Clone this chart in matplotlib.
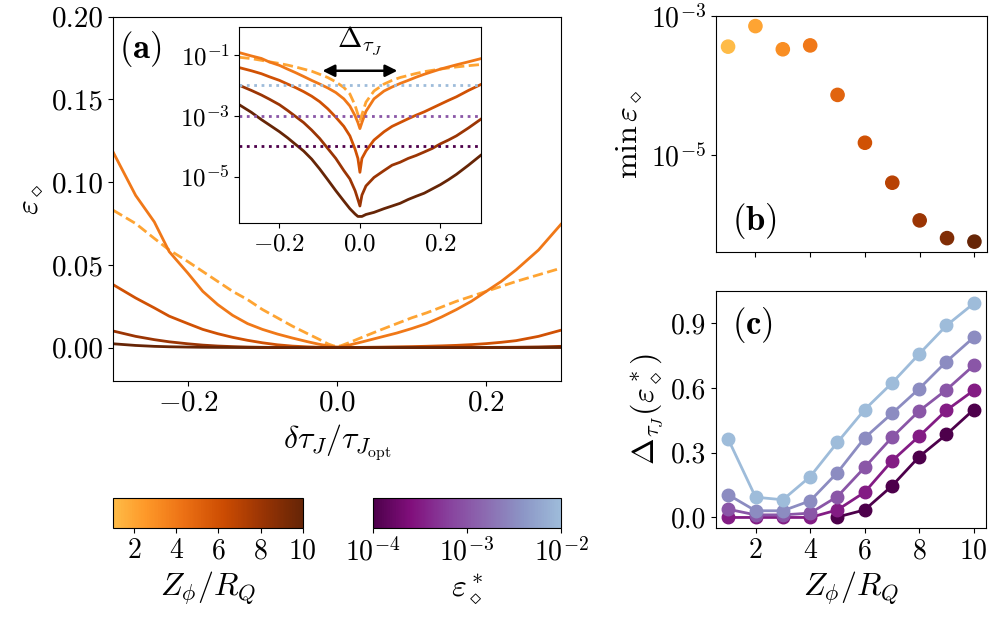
import numpy as np
import matplotlib
matplotlib.use("Agg")
import matplotlib.pyplot as plt
from matplotlib.colors import LinearSegmentedColormap, Normalize, LogNorm
from matplotlib.cm import ScalarMappable
from matplotlib.ticker import NullLocator, FormatStrFormatter

plt.rcParams['font.family'] = 'serif'
plt.rcParams['font.serif'] = ['cmr10', 'DejaVu Serif']
plt.rcParams['mathtext.fontset'] = 'cm'
plt.rcParams['axes.formatter.use_mathtext'] = True

# данные панели (a): отклонение dtau и ошибка для разных Z
dtau = [-0.3, -0.27, -0.245, -0.225, -0.2, -0.18, -0.16, -0.14, -0.12, -0.1, -0.08, -0.06,
        -0.04, -0.025, -0.012, -0.005, 0.0, 0.005, 0.015, 0.035, 0.06, 0.08, 0.1, 0.12,
        0.14, 0.16, 0.18, 0.2, 0.22, 0.24, 0.27, 0.3]
eps_dashed = [0.083, 0.075, 0.066, 0.059, 0.052, 0.046, 0.040, 0.034, 0.029, 0.023, 0.018, 0.013,
              0.0085, 0.0052, 0.0022, 0.0011, 0.0007, 0.0011, 0.0028, 0.0065, 0.011, 0.0145, 0.018, 0.021,
              0.0245, 0.028, 0.031, 0.034, 0.037, 0.040, 0.044, 0.048]
eps_z4 = [0.118, 0.092, 0.076, 0.058, 0.045, 0.034, 0.026, 0.0195, 0.0145, 0.011, 0.0082, 0.0058,
          0.0036, 0.0021, 0.0010, 0.0006, 0.00038, 0.0006, 0.0014, 0.0036, 0.0065, 0.0088, 0.0115, 0.0145,
          0.0185, 0.023, 0.028, 0.034, 0.040, 0.047, 0.059, 0.0745]
eps_z6 = [0.038, 0.030, 0.024, 0.019, 0.0145, 0.011, 0.0084, 0.0062, 0.0044, 0.0029, 0.0017, 0.0009,
          4.5e-4, 2.2e-4, 8e-5, 4e-5, 1.4e-5, 4e-5, 7e-5, 1.6e-4, 3.0e-4, 4.5e-4, 6e-4, 8e-4,
          1.05e-3, 1.35e-3, 1.8e-3, 2.4e-3, 3.2e-3, 4.2e-3, 6.8e-3, 1.05e-2]
eps_z8 = [0.0100, 0.0068, 0.0048, 0.0035, 0.0023, 0.0015, 9.5e-4, 6e-4, 3.4e-4, 1.8e-4, 8.5e-5, 4e-5,
          1.6e-5, 8.5e-6, 3.5e-6, 1.8e-6, 1.1e-6, 2.5e-6, 5e-6, 9.5e-6, 1.6e-5, 2.4e-5, 3.0e-5, 4.0e-5,
          5.0e-5, 6.5e-5, 8.5e-5, 1.2e-4, 1.6e-4, 2.2e-4, 4.0e-4, 7.6e-4]
eps_z10 = [0.0023, 0.0013, 7.5e-4, 5e-4, 3e-4, 1.9e-4, 1.15e-4, 7e-5, 3.8e-5, 1.8e-5, 8e-6, 3.5e-6,
           1.6e-6, 9e-7, 6e-7, 5e-7, 5e-7, 5e-7, 5.8e-7, 6.8e-7, 9e-7, 1.1e-6, 1.35e-6, 1.8e-6,
           2.3e-6, 2.9e-6, 4e-6, 5.5e-6, 8e-6, 1.2e-5, 2.4e-5, 5e-5]
z_dashed = 2
z_solid = [4, 6, 8, 10]
eps_thresholds = [1e-2, 1e-3, 1e-4]

# панель (b)
Z = [1, 2, 3, 4, 5, 6, 7, 8, 9, 10]
min_eps = [3.6e-4, 7.1e-4, 3.3e-4, 3.75e-4, 7.3e-5, 1.5e-5, 4.0e-6, 1.15e-6, 6.4e-7, 5.7e-7]

# панель (c): ширина окна для разных eps*
eps_star = [1e-4, 10**-3.5, 1e-3, 10**-2.5, 1e-2]
delta_1e4 = [np.nan, np.nan, np.nan, np.nan, 0.002, 0.035, 0.146, 0.282, 0.385, 0.5]
delta_3e4 = [0.0, 0.0, 0.0, 0.0, 0.035, 0.117, 0.262, 0.377, 0.497, 0.589]
delta_1e3 = [0.038, 0.012, 0.012, 0.02, 0.097, 0.232, 0.371, 0.494, 0.592, 0.705]
delta_3e3 = [0.105, 0.031, 0.031, 0.077, 0.208, 0.369, 0.482, 0.597, 0.723, 0.835]
delta_1e2 = [0.362, 0.094, 0.082, 0.189, 0.348, 0.5, 0.623, 0.758, 0.89, 0.992]
deltas = [delta_1e4, delta_3e4, delta_1e3, delta_3e3, delta_1e2]

# цветовые карты
cm_or = LinearSegmentedColormap.from_list('or', plt.cm.YlOrBr(np.linspace(0.4, 1.0, 256)))
cm_pu = LinearSegmentedColormap.from_list('pu', plt.cm.BuPu(np.linspace(1.0, 0.375, 256)))
norm_or = Normalize(1, 10)
norm_pu = LogNorm(1e-4, 1e-2)

fig = plt.figure(figsize=(9.97, 6.2), dpi=100)
ax_a = fig.add_axes([0.1136, 0.386, 0.449, 0.587])
ax_in = fig.add_axes([0.240, 0.640, 0.242, 0.316])
ax_b = fig.add_axes([0.7179, 0.593, 0.2718, 0.3816])
ax_c = fig.add_axes([0.7182, 0.148, 0.2708, 0.3827])
cax1 = fig.add_axes([0.1136, 0.148, 0.19, 0.0484])
cax2 = fig.add_axes([0.3738, 0.148, 0.1892, 0.0484])

lw = 2.0
solid_data = [eps_z4, eps_z6, eps_z8, eps_z10]
for ax in [ax_a, ax_in]:
    ax.plot(dtau, eps_dashed, '--', color=cm_or(norm_or(z_dashed)), lw=lw)
    for z, e in zip(z_solid, solid_data):
        ax.plot(dtau, e, '-', color=cm_or(norm_or(z)), lw=lw)

ax_a.set_xlim(-0.3, 0.3)
ax_a.set_ylim(-0.02, 0.2)
ax_a.set_xticks([-0.2, 0.0, 0.2])
ax_a.set_yticks([0.0, 0.05, 0.10, 0.15, 0.20])
ax_a.yaxis.set_major_formatter(FormatStrFormatter('%.2f'))
ax_a.tick_params(labelsize=21)
ax_a.set_xlabel(r'$\delta\tau_J/\tau_{J_{\mathrm{opt}}}$', fontsize=23)
ax_a.set_ylabel(r'$\varepsilon_\diamond$', fontsize=23)
ax_a.text(0.012, 0.965, r'$\mathbf{(a)}$', transform=ax_a.transAxes, fontsize=25, va='top')

# вставка
ax_in.set_yscale('log')
for e in eps_thresholds:
    ax_in.axhline(e, ls=':', lw=2, color=cm_pu(norm_pu(e)))
ax_in.set_xlim(-0.3, 0.3)
ax_in.set_ylim(3e-7, 0.8)
ax_in.set_xticks([-0.2, 0.0, 0.2])
ax_in.set_yticks([1e-1, 1e-3, 1e-5])
ax_in.yaxis.set_minor_locator(NullLocator())
ax_in.tick_params(labelsize=18)
ax_in.annotate('', xy=(-0.1, 0.03), xytext=(0.1, 0.03),
               arrowprops=dict(arrowstyle='<|-|>', color='black', lw=1.8, mutation_scale=18))
ax_in.text(0.0, 0.085, r'$\Delta_{\tau_J}$', ha='center', va='bottom', fontsize=21)

# панель (b)
ax_b.scatter(Z, min_eps, s=9.5**2, c=[cm_or(norm_or(z)) for z in Z], zorder=3)
ax_b.set_yscale('log')
ax_b.set_ylim(4e-7, 1e-3)
ax_b.set_xlim(0.55, 10.45)
ax_b.set_xticks([2, 4, 6, 8, 10])
ax_b.set_xticklabels([])
ax_b.set_yticks([1e-5, 1e-3])
ax_b.yaxis.set_minor_locator(NullLocator())
ax_b.tick_params(labelsize=20)
ax_b.set_ylabel(r'$\min\,\varepsilon_\diamond$', fontsize=23)
ax_b.text(0.06, 0.05, r'$\mathbf{(b)}$', transform=ax_b.transAxes, fontsize=25, va='bottom')

# панель (c)
for es, d in zip(eps_star, deltas):
    ax_c.plot(Z, d, '-o', color=cm_pu(norm_pu(es)), lw=2, ms=9)
ax_c.set_xlim(0.55, 10.45)
ax_c.set_ylim(-0.05, 1.05)
ax_c.set_xticks([2, 4, 6, 8, 10])
ax_c.set_yticks([0.0, 0.3, 0.6, 0.9])
ax_c.yaxis.set_major_formatter(FormatStrFormatter('%.1f'))
ax_c.tick_params(labelsize=20)
ax_c.set_xlabel(r'$Z_\phi/R_Q$', fontsize=23)
ax_c.set_ylabel(r'$\Delta_{\tau_J}(\varepsilon^*_\diamond)$', fontsize=23)
ax_c.text(0.06, 0.94, r'$\mathbf{(c)}$', transform=ax_c.transAxes, fontsize=25, va='top')

# цветовые шкалы
cb1 = fig.colorbar(ScalarMappable(norm=norm_or, cmap=cm_or), cax=cax1, orientation='horizontal')
cb1.set_ticks([2, 4, 6, 8, 10])
cb1.ax.tick_params(labelsize=20)
cb1.set_label(r'$Z_\phi/R_Q$', fontsize=23)
cb2 = fig.colorbar(ScalarMappable(norm=norm_pu, cmap=cm_pu), cax=cax2, orientation='horizontal')
cb2.set_ticks([1e-4, 1e-3, 1e-2])
cb2.ax.xaxis.set_minor_locator(NullLocator())
cb2.ax.tick_params(labelsize=20)
cb2.set_label(r'$\varepsilon^*_\diamond$', fontsize=23)

fig.savefig('out.png', dpi=100)
